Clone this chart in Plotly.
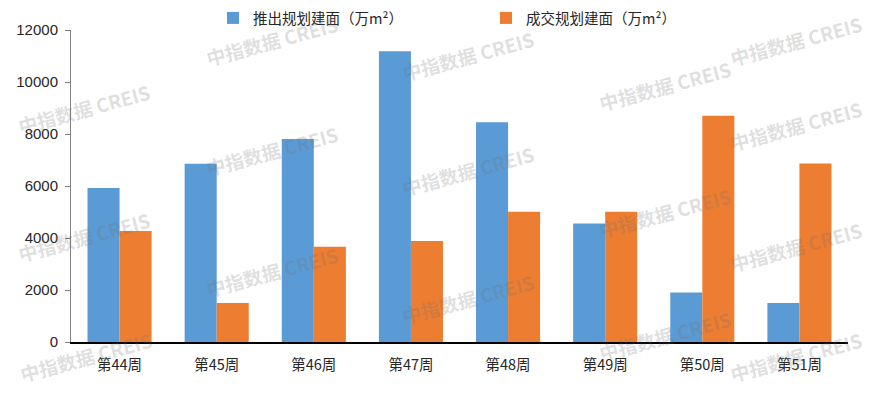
import plotly.graph_objects as go

categories = ["第44周", "第45周", "第46周", "第47周", "第48周", "第49周", "第50周", "第51周"]
launched = [5920, 6860, 7810, 11180, 8450, 4560, 1900, 1500]
sold = [4270, 1500, 3660, 3880, 5010, 5010, 8700, 6870]
series_names = ["推出规划建面（万m²）", "成交规划建面（万m²）"]
y_ticks = [0, 2000, 4000, 6000, 8000, 10000, 12000]
y_tick_text = ["0", "2000", "4000", "6000", "8000", "10000", "12000"]

FONT = "Liberation Sans, Arial, Noto Sans CJK SC, sans-serif"
CJK = "Noto Sans CJK SC, sans-serif"

fig = go.Figure()
fig.add_trace(go.Bar(x=categories, y=launched, name=series_names[0],
                     marker=dict(color="#5B9BD5", line=dict(width=0))))
fig.add_trace(go.Bar(x=categories, y=sold, name=series_names[1],
                     marker=dict(color="#ED7D31", line=dict(width=0))))

# page body has an 8px default margin, so the figure is sized to fit the window
OFF = 8
W, H = 876 - OFF, 393 - OFF
ml, mt = 71 - OFF, 30 - OFF
pw, ph = 777, 312
mr, mb = W - ml - pw, H - mt - ph

# watermark centers in window pixels (kept inside the canvas)
wm_centers = [
    (84, 108), (84, 236), (86, 356),
    (272, 40), (272, 150), (272, 271),
    (468, 55), (468, 170), (468, 298),
    (665, 85), (665, 212), (665, 335),
    (796, 40), (796, 125), (796, 246), (796, 356),
]
annotations = []
for cx, cy in wm_centers:
    annotations.append(dict(
        text="<b>中指数据 CREIS</b>",
        x=(cx - OFF - ml) / pw, y=1 - (cy - OFF - mt) / ph,
        xref="paper", yref="paper", showarrow=False, textangle=-15,
        font=dict(size=19, color="rgba(110,110,110,0.22)", family=CJK),
        xanchor="center", yanchor="middle",
    ))

fig.update_layout(
    width=W, height=H,
    margin=dict(l=ml, r=mr, t=mt, b=mb, pad=0, autoexpand=False),
    paper_bgcolor="white", plot_bgcolor="white",
    barmode="group", bargap=0.34, bargroupgap=0,
    font=dict(family=FONT, size=14.5, color="#262626"),
    showlegend=True,
    legend=dict(orientation="h", xref="paper", x=(213 - OFF - ml) / pw, xanchor="left",
                yref="container", y=1 - (18 - OFF) / H, yanchor="middle",
                entrywidth=228, entrywidthmode="pixels",
                font=dict(size=14.5, color="#262626", family=CJK),
                bgcolor="rgba(0,0,0,0)", borderwidth=0, itemclick=False),
    annotations=annotations,
    xaxis=dict(showline=True, linecolor="#000000", linewidth=1.5, ticks="",
               showgrid=False, zeroline=False, ticklabelstandoff=9,
               tickfont=dict(size=14.5, family=CJK, color="#262626")),
    yaxis=dict(range=[0, 12000], tickvals=y_ticks, ticktext=y_tick_text,
               showline=True, linecolor="#7f7f7f",
               linewidth=1, ticks="outside", ticklen=5, tickcolor="#7f7f7f",
               showgrid=False, zeroline=False, ticklabelstandoff=4,
               tickfont=dict(size=15, family=FONT, color="#262626")),
)

fig.write_html("out.html")
